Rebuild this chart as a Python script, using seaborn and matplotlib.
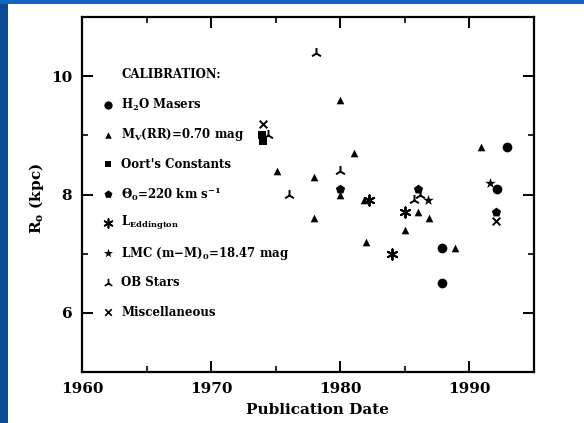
import matplotlib
matplotlib.use("Agg")
import matplotlib.pyplot as plt
from matplotlib.patches import Rectangle
import seaborn as sns
import pandas as pd

# ---- data ----
maser_year = [1987.9, 1987.9, 1992.9, 1992.1]
maser_r = [7.1, 6.5, 8.8, 8.1]
rr_year = [1975.1, 1978.0, 1978.0, 1980.0, 1980.0, 1981.05, 1981.8, 1982.0, 1985.0, 1986.05, 1986.9, 1988.9, 1990.9]
rr_r = [8.4, 8.3, 7.6, 9.6, 8.0, 8.7, 7.9, 7.2, 7.4, 7.7, 7.6, 7.1, 8.8]
oort_year = [1973.9, 1974.0]
oort_r = [9.0, 8.9]
theta_year = [1980.0, 1986.05, 1992.05]
theta_r = [8.1, 8.1, 7.7]
edd_year = [1984.0, 1985.0, 1982.25]
edd_r = [7.0, 7.7, 7.9]
lmc_year = [1986.8, 1991.6]
lmc_r = [7.9, 8.2]
ob_year = [1978.1, 1974.4, 1976.05, 1980.0, 1985.7, 1986.2]
ob_r = [10.4, 9.0, 8.0, 8.4, 7.9, 8.0]
misc_year = [1974.05, 1992.05]
misc_r = [9.2, 7.55]

legend_title = "CALIBRATION:"
labels = ["H$_2$O Masers", "M$_V$(RR)=0.70 mag", "Oort's Constants",
          "\u0398$_0$=220 km s$^{-1}$", "L$_{Eddington}$",
          "LMC (m\u2212M)$_0$=18.47 mag", "OB Stars", "Miscellaneous"]
x_ticks = [1960, 1970, 1980, 1990]
y_ticks = [6, 8, 10]

groups = [(maser_year, maser_r), (rr_year, rr_r), (oort_year, oort_r),
          (theta_year, theta_r), (edd_year, edd_r), (lmc_year, lmc_r),
          (ob_year, ob_r), (misc_year, misc_r)]
rows = []
for lab, (xs, ys) in zip(labels, groups):
    for xv, yv in zip(xs, ys):
        rows.append({"year": xv, "R0": yv, "calib": lab})
df = pd.DataFrame(rows)

asterisk = (6, 2, 0)
markers = {labels[0]: "o", labels[1]: "^", labels[2]: "s", labels[3]: "p",
           labels[4]: asterisk, labels[5]: "*", labels[6]: "2", labels[7]: "x"}
sizes_pt = {labels[0]: 7.0, labels[1]: 5.5, labels[2]: 5.5, labels[3]: 7.0,
            labels[4]: 7.5, labels[5]: 8.0, labels[6]: 8, labels[7]: 5.5}

sns.set_style("ticks")
plt.rcParams["font.family"] = ["DejaVu Serif"]
plt.rcParams["font.weight"] = "bold"
plt.rcParams["mathtext.fontset"] = "custom"
plt.rcParams["mathtext.rm"] = "DejaVu Serif:bold"
plt.rcParams["mathtext.it"] = "DejaVu Serif:bold"
plt.rcParams["mathtext.bf"] = "DejaVu Serif:bold"
plt.rcParams["mathtext.default"] = "rm"
for k in ["text.color", "axes.labelcolor", "xtick.color", "ytick.color", "axes.edgecolor"]:
    plt.rcParams[k] = "black"

fig = plt.figure(figsize=(5.84, 4.23), dpi=100)
fig.patch.set_facecolor("white")
fig.patches.append(Rectangle((0, 0), 8 / 584, 1, transform=fig.transFigure,
                             facecolor="#0b4a96", edgecolor="none", zorder=0))
fig.patches.append(Rectangle((0, 1 - 4 / 423), 1, 4 / 423, transform=fig.transFigure,
                             facecolor="#1462c4", edgecolor="none", zorder=0))

ax = fig.add_axes([82 / 584, 51 / 423, 452 / 584, 355 / 423])
for lab in labels:
    sub = df[df["calib"] == lab]
    m = markers[lab]
    lw = 1.4 if m in ("2", "x", asterisk) else 0
    sns.scatterplot(data=sub, x="year", y="R0", marker=m, color="black",
                    s=sizes_pt[lab] ** 2, linewidth=lw, edgecolor="black",
                    ax=ax, legend=False, zorder=3)

ax.set_xlim(1960, 1995)
ax.set_ylim(5, 11)
ax.set_xticks(x_ticks)
ax.set_yticks(y_ticks)
ax.set_xticks([1965, 1975, 1985], minor=True)
ax.set_yticks([5, 7, 9, 11], minor=True)
ax.tick_params(which="major", direction="in", length=8, width=1.4,
               top=True, right=True, labelsize=11, pad=7)
ax.tick_params(which="minor", direction="in", length=4, width=1.2,
               top=True, right=True)
for sp in ax.spines.values():
    sp.set_linewidth(1.6)
    sp.set_visible(True)
    sp.set_color("black")

ax.set_xlabel("Publication Date", fontsize=11, fontweight="bold", labelpad=8)
ax.set_ylabel("R$_o$ (kpc)", fontsize=11, fontweight="bold")
ax.xaxis.set_label_coords((318 - 82) / 452, -0.088)
ax.yaxis.set_label_coords((46 - 82) / 452, (372 - 198) / 355)

# legend key (drawn row by row so that rows are evenly spaced)
key_x = (108 - 82) / 452
txt_x = (121 - 82) / 452
title_y = (372 - 75) / 355
row0_y = (372 - 105) / 355
row_dy = 29.6 / 355
ax.text(txt_x, title_y, legend_title, transform=ax.transAxes, fontsize=8.5,
        fontweight="bold", va="center", ha="left")
for i, lab in enumerate(labels):
    yy = row0_y - i * row_dy
    m = markers[lab]
    ax.scatter([key_x], [yy], transform=ax.transAxes, marker=m, color="black",
               s=(sizes_pt[lab] * 0.85) ** 2,
               linewidths=1.2 if m in ("2", "x", asterisk) else 0, clip_on=False)
    ax.text(txt_x, yy, lab, transform=ax.transAxes, fontsize=8.5,
            fontweight="bold", va="center", ha="left")

fig.savefig("out.png", dpi=100, facecolor=fig.get_facecolor())
